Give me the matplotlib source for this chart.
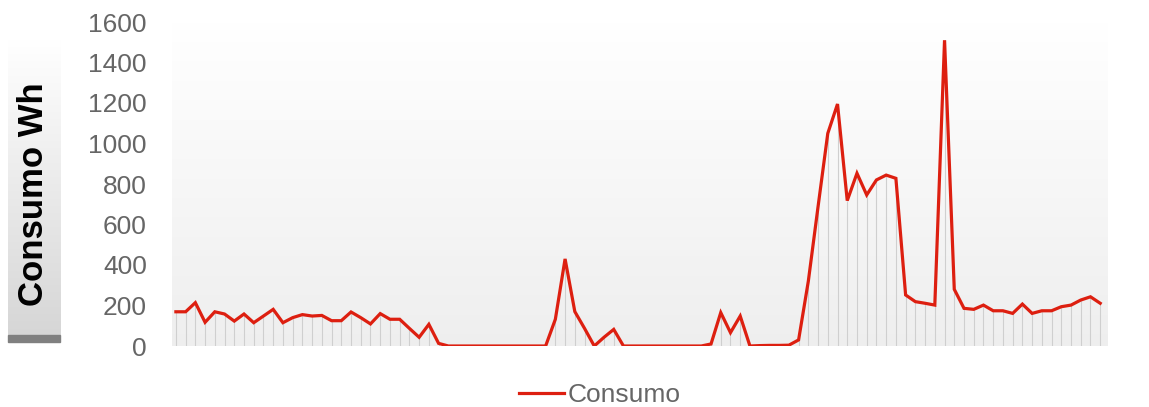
import numpy as np
import matplotlib
matplotlib.use("Agg")
import matplotlib.pyplot as plt
from matplotlib.patches import Rectangle

# -----------------------------
# Data
# -----------------------------
consumo = [
    169, 169, 214, 117, 169, 158, 123, 158, 115, 148,
    181, 115, 140, 155, 148, 151, 125, 125, 168, 140,
    109, 160, 132, 132, 87, 43, 107, 13, 0, 0,
    0, 0, 0, 0, 0, 0, 0, 0, 0, 132,
    430, 170, 87, 0, 43, 82, 0, 0, 0, 0,
    0, 0, 0, 0, 0, 10, 165, 66, 148, 0,
    2, 3, 3, 4, 30, 320, 688, 1050, 1195, 718,
    853, 746, 820, 844, 828, 252, 219, 211, 202, 1510,
    280, 186, 181, 202, 174, 174, 161, 207, 161, 174,
    174, 194, 202, 227, 243, 211,
]
y_ticks = [0, 200, 400, 600, 800, 1000, 1200, 1400, 1600]
y_label = "Consumo Wh"
series_name = "Consumo"

RED = "#dd1f10"
GREY_TEXT = "#666666"

plt.rcParams["font.family"] = ["Liberation Sans", "DejaVu Sans"]

fig = plt.figure(figsize=(11.49, 4.07), dpi=100)
ax = fig.add_axes([172 / 1149, 1 - 346 / 407, (1108 - 172) / 1149, (346 - 22) / 407])

x = np.arange(len(consumo))
ax.set_xlim(-0.4, len(consumo) - 0.2)
ax.set_ylim(0, 1600)

# gradient plot background (white on top, light grey at the bottom)
grad = np.linspace(1.0, 0.935, 256).reshape(-1, 1)
ax.imshow(np.dstack([grad, grad, grad]), extent=[-0.4, len(consumo) - 0.2, 0, 1600],
          aspect="auto", zorder=0, origin="upper")

# drop lines under every point
ax.vlines(x, 0, consumo, color="#cfcfcf", linewidth=0.8, zorder=1)
ax.plot(x, consumo, color=RED, linewidth=2.3, label=series_name, zorder=3,
        solid_joinstyle="miter")

ax.set_yticks(y_ticks)
ax.set_xticks([])
ax.tick_params(axis="y", length=0, pad=18, labelsize=19, labelcolor=GREY_TEXT)
for s in ax.spines.values():
    s.set_visible(False)

# y label box on the left
lab_ax = fig.add_axes([8 / 1149, 1 - 335 / 407, 52 / 1149, 295 / 407])
g2 = np.linspace(1.0, 0.84, 256).reshape(-1, 1)
lab_ax.imshow(np.dstack([g2, g2, g2]), aspect="auto", extent=[0, 1, 0, 1])
lab_ax.set_axis_off()
fig.patches.append(Rectangle((8 / 1149, 1 - 342 / 407), 52 / 1149, 7 / 407,
                             transform=fig.transFigure, color="#808080"))
fig.text(34 / 1149, 1 - 194 / 407, y_label, rotation=90, ha="center", va="center",
         fontsize=25, fontweight="bold", color="black")

leg = ax.legend(loc="center", bbox_to_anchor=(0.522, 1 - 395 / 407),
                bbox_transform=fig.transFigure, frameon=False, fontsize=19,
                handlelength=1.7, handletextpad=0.15)
for t in leg.get_texts():
    t.set_color(GREY_TEXT)

fig.savefig("out.png", dpi=100)
